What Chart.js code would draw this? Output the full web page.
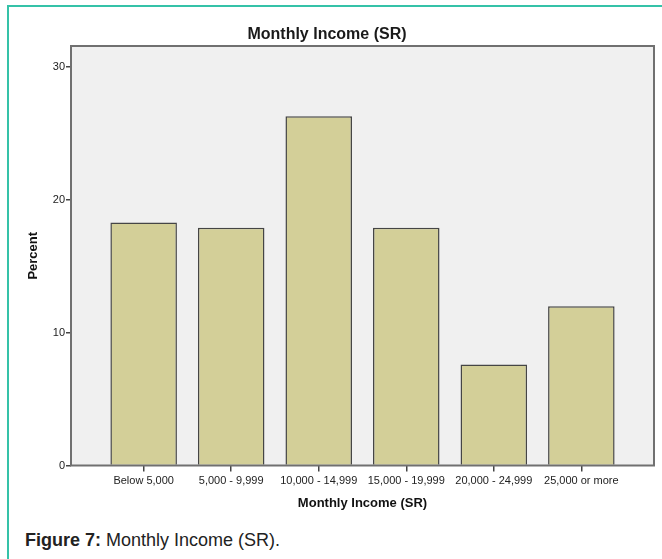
<!DOCTYPE html>
<html>
<head>
<meta charset="utf-8">
<script src="https://cdn.jsdelivr.net/npm/chart.js@4.4.0/dist/chart.umd.min.js"></script>
<style>
  html, body { margin: 0; padding: 0; background: #fff; overflow: hidden; width: 662px; height: 559px; }
  #frame { position: absolute; left: 7px; top: 5px; width: 700px; height: 600px; border: 2px solid #35c2a8; box-sizing: border-box; }
  #chart { position: absolute; left: 0; top: 0; }
  #caption { position: absolute; left: 25px; top: 530px; font: 18px 'Liberation Sans', Arial, sans-serif; line-height: 20px; color: #222; white-space: nowrap; }
</style>
</head>
<body>
<div id="frame"></div>
<canvas id="chart" width="662" height="520"></canvas>
<div id="caption"><b>Figure 7:</b> Monthly Income (SR).</div>
<script>
// values
const categories = ['Below 5,000', '5,000 - 9,999', '10,000 - 14,999', '15,000 - 19,999', '20,000 - 24,999', '25,000 or more'];
const percents = [18.3, 17.9, 26.3, 17.9, 7.6, 12.0];
const yTicks = [0, 10, 20, 30];

Chart.defaults.font.family = "'Liberation Sans', Arial, sans-serif";

// grey plot panel with a frame round it
const panel = {
    id: 'panel',
    beforeDatasetsDraw: function(chart) {
        const a = chart.chartArea, ctx = chart.ctx;
        ctx.save();
        ctx.fillStyle = '#f0f0f0';
        ctx.fillRect(a.left, a.top, a.right - a.left, a.bottom - a.top);
        ctx.restore();
    },
    afterDatasetsDraw: function(chart) {
        const a = chart.chartArea, ctx = chart.ctx;
        ctx.save();
        ctx.strokeStyle = '#707070';
        ctx.lineWidth = 2;
        ctx.strokeRect(a.left, a.top, a.right - a.left, a.bottom - a.top);
        ctx.restore();
    }
};

new Chart(document.getElementById('chart'), {
    type: 'bar',
    data: {
        datasets: [{
            data: percents.map((v, i) => ({x: i, y: v})),
            backgroundColor: '#d3cf98',
            borderColor: '#454545',
            borderWidth: 1.5,
            barPercentage: 0.76,
            categoryPercentage: 1
        }]
    },
    options: {
        responsive: false,
        animation: false,
        devicePixelRatio: 1,
        layout: { padding: { left: 0, right: 8, top: 0, bottom: 0 } },
        plugins: {
            legend: { display: false },
            tooltip: { enabled: false },
            title: {
                display: true,
                text: 'Monthly Income (SR)',
                color: '#1a1a1a',
                font: { size: 16, weight: 'bold' },
                padding: { top: 25, bottom: 1.8 }
            }
        },
        scales: {
            x: {
                type: 'linear',
                offset: false,
                min: -0.83,
                max: 5.83,
                afterBuildTicks: function(s) { s.ticks = categories.map((c, i) => ({value: i})); },
                afterFit: function(s) { s.height = 54.5; },
                grid: { offset: false, drawOnChartArea: false, drawTicks: true, tickLength: 6, color: '#444', lineWidth: 1.5 },
                border: { display: false },
                ticks: {
                    autoSkip: false,
                    maxRotation: 0,
                    padding: 3,
                    color: '#222',
                    font: { size: 11 },
                    callback: function(v) { return categories[v]; }
                },
                title: {
                    display: true,
                    text: 'Monthly Income (SR)',
                    color: '#111',
                    font: { size: 13, weight: 'bold' },
                    padding: { top: 0, bottom: 9.2 }
                }
            },
            y: {
                min: 0,
                max: 31.6,
                afterBuildTicks: function(s) { s.ticks = yTicks.map(v => ({value: v})); },
                afterFit: function(s) { s.width = 71; },
                grid: { drawOnChartArea: false, drawTicks: true, tickLength: 5, color: '#444', lineWidth: 1.5 },
                border: { display: false },
                ticks: { padding: 1, color: '#222', font: { size: 11 } },
                title: {
                    display: true,
                    text: 'Percent',
                    color: '#111',
                    font: { size: 13, weight: 'bold' },
                    padding: { top: 26, bottom: 0 }
                }
            }
        }
    },
    plugins: [panel]
});
</script>
</body>
</html>
